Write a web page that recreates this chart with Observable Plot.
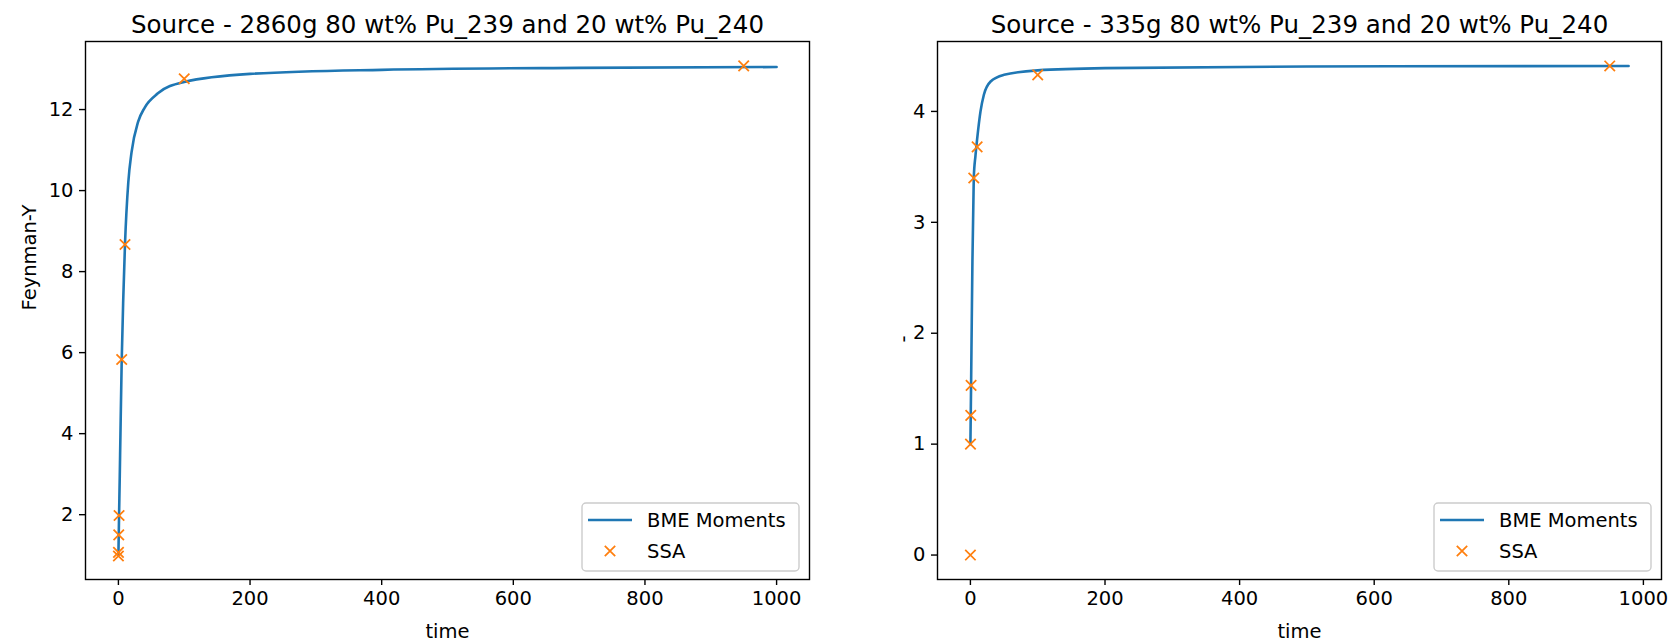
<!DOCTYPE html>
<html>
<head>
<meta charset="utf-8">
<script src="https://cdn.jsdelivr.net/npm/d3@7"></script>
<script src="https://cdn.jsdelivr.net/npm/@observablehq/plot@0.6"></script>
<style>
  html, body { margin: 0; padding: 0; background: #fff; }
  #wrap { display: flex; width: 1670px; height: 642px; }
  #wrap > div { width: 835px; height: 642px; }
</style>
</head>
<body>
<div id="wrap"><div id="left"></div><div id="right"></div></div>
<script>
// ---- data ----
const titleLeft = "Source - 2860g 80 wt% Pu_239 and 20 wt% Pu_240";
const titleRight = "Source - 335g 80 wt% Pu_239 and 20 wt% Pu_240";
const xLabel = "time";
const yLabel = "Feynman-Y";
const legendLine = "BME Moments";
const legendDots = "SSA";

const xTicks = [0, 200, 400, 600, 800, 1000];
const yTicksLeft = [2, 4, 6, 8, 10, 12];
const yTicksRight = [0, 1, 2, 3, 4];

// BME Moments curve, left panel
const bmeTimeLeft = [0, 0.5, 1, 2, 3, 5, 7.5, 10, 15, 20, 30, 40, 60, 100, 200, 400, 700, 1000];
const bmeYLeft    = [1.0, 1.5, 1.98, 2.9, 3.9, 5.8, 7.4, 8.67, 10.2, 10.95, 11.7, 12.05, 12.4, 12.68, 12.88, 12.98, 13.03, 13.05];
// SSA points, left panel
const ssaTimeLeft = [0, 0.1, 0.5, 1, 5, 10, 100, 950];
const ssaYLeft    = [0.98, 1.07, 1.5, 1.98, 5.83, 8.67, 12.76, 13.08];

// BME Moments curve, right panel
const bmeTimeRight = [0, 0.5, 1, 2, 3, 5, 7.5, 10, 15, 20, 30, 50, 100, 200, 500, 978];
const bmeYRight    = [1.0, 1.26, 1.53, 2.1, 2.65, 3.4, 3.6, 3.75, 4.0, 4.15, 4.27, 4.33, 4.37, 4.39, 4.405, 4.41];
// SSA points, right panel
const ssaTimeRight = [0, 0.1, 0.5, 1, 5, 10, 100, 950];
const ssaYRight    = [0, 1.0, 1.26, 1.53, 3.40, 3.68, 4.33, 4.41];

const C0 = "#1f77b4", C1 = "#ff7f0e";
const FONT = "DejaVu Sans";
const FS = 19.5;     // tick / label / legend font size
const FS_T = 24.5;   // title font size

function panel({el, title, bmeT, bmeY, ssaT, ssaY, xDomain, yDomain, yTicks, marginLeft, marginRight, yLab, yLabDx, yLabDy}) {
  const line = bmeT.map((t, i) => ({t, y: bmeY[i]}));
  const pts = ssaT.map((t, i) => ({t, y: ssaY[i]}));
  const W = 835, H = 642, mt = 41, mb = 63;
  const fmt = d => String(d);
  const plot = Plot.plot({
    width: W, height: H,
    marginLeft, marginRight, marginTop: mt, marginBottom: mb,
    style: {fontFamily: FONT, fontSize: FS + "px", color: "black", background: "white", overflow: "visible"},
    x: {domain: xDomain, ticks: xTicks},
    y: {domain: yDomain, ticks: yTicks},
    marks: [
      Plot.axisX({ticks: xTicks, tickFormat: fmt, tickSize: 6, tickPadding: 6, label: null, stroke: "black", strokeWidth: 1.4, fontSize: FS}),
      Plot.axisY({ticks: yTicks, tickFormat: fmt, tickSize: 6, tickPadding: 6, label: null, stroke: "black", strokeWidth: 1.4, fontSize: FS}),
      Plot.line(line, {x: "t", y: "y", stroke: C0, strokeWidth: 2.6, curve: "monotone-x"}),
      Plot.dot(pts, {x: "t", y: "y", symbol: "times", r: 4.8, stroke: C1, strokeWidth: 1.75}),
      Plot.frame({stroke: "black", strokeWidth: 1.4}),
      Plot.text([title], {frameAnchor: "top", lineAnchor: "bottom", dy: -9, fontSize: FS_T, fill: "black"}),
      Plot.text([xLabel], {frameAnchor: "bottom", lineAnchor: "middle", dy: 52, fontSize: FS, fill: "black"}),
      Plot.text([yLab], {frameAnchor: "left", rotate: -90, dx: yLabDx, dy: yLabDy, fontSize: FS, fill: "black"})
    ]
  });
  // legend, matplotlib style (lower right)
  const svg = d3.select(plot);
  const fr = W - marginRight;
  const bw = 217, bh = 68;
  const bx = fr - 10 - bw, by = 503;
  const g = svg.append("g").style("font-family", FONT).style("font-size", FS + "px").attr("text-anchor", "start");
  g.append("rect").attr("x", bx).attr("y", by).attr("width", bw).attr("height", bh)
    .attr("rx", 4).attr("fill", "white").attr("fill-opacity", 0.8)
    .attr("stroke", "#cccccc").attr("stroke-width", 1.4);
  g.append("line").attr("x1", bx + 6).attr("x2", bx + 50).attr("y1", by + 17).attr("y2", by + 17)
    .attr("stroke", C0).attr("stroke-width", 2.6);
  g.append("text").attr("x", bx + 65).attr("y", by + 17).attr("dy", "0.35em")
    .style("text-anchor", "start").attr("fill", "black").text(legendLine);
  const cx = bx + 28, cy = by + 48, s = 5.2;
  g.append("path").attr("d", `M${cx - s},${cy - s}L${cx + s},${cy + s}M${cx - s},${cy + s}L${cx + s},${cy - s}`)
    .attr("stroke", C1).attr("stroke-width", 1.75).attr("fill", "none");
  g.append("text").attr("x", bx + 65).attr("y", by + 48).attr("dy", "0.35em")
    .style("text-anchor", "start").attr("fill", "black").text(legendDots);
  document.getElementById(el).append(plot);
}

panel({el: "left", title: titleLeft, bmeT: bmeTimeLeft, bmeY: bmeYLeft, ssaT: ssaTimeLeft, ssaY: ssaYLeft,
  xDomain: [-50, 1050], yDomain: [0.4, 13.68], yTicks: yTicksLeft, marginLeft: 85, marginRight: 26,
  yLab: yLabel, yLabDx: -56, yLabDy: 0});
panel({el: "right", title: titleRight, bmeT: bmeTimeRight, bmeY: bmeYRight, ssaT: ssaTimeRight, ssaY: ssaYRight,
  xDomain: [-48.9, 1026.9], yDomain: [-0.2205, 4.6305], yTicks: yTicksRight, marginLeft: 102, marginRight: 9,
  yLab: "-", yLabDx: -34, yLabDy: 32});
</script>
</body>
</html>
